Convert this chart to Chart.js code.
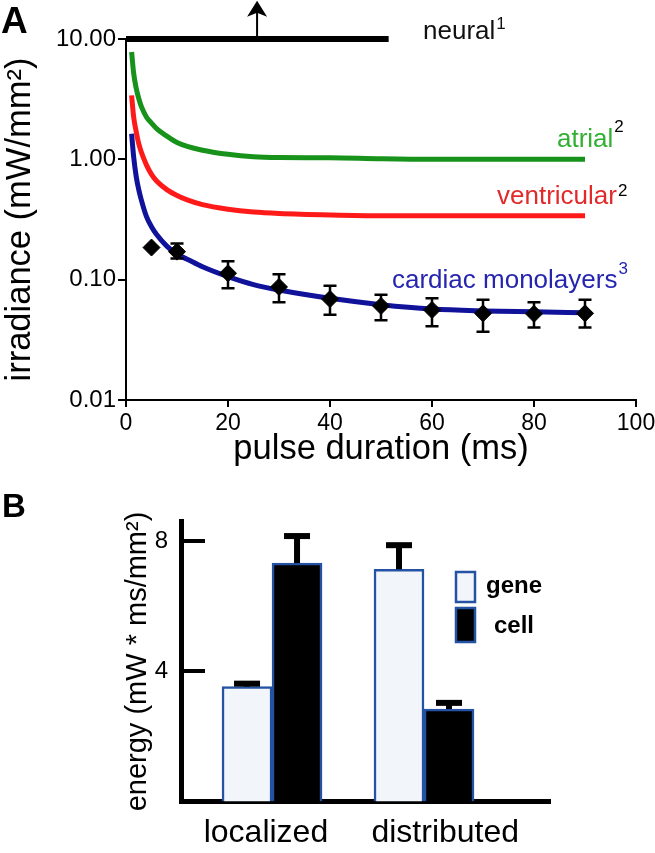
<!DOCTYPE html>
<html>
<head>
<meta charset="utf-8">
<script src="https://cdn.jsdelivr.net/npm/chart.js"></script>
<style>
  body { margin: 0; background: #fff; }
  #wrapA { position: absolute; left: 0; top: 0; width: 655px; height: 470px; }
  #wrapB { position: absolute; left: 0; top: 470px; width: 655px; height: 383px; }
</style>
</head>
<body>
<div id="wrapA"><canvas id="chartA"></canvas></div>
<div id="wrapB"><canvas id="chartB"></canvas></div>
<script>
// ---- panel A: strength-duration curves ----
var pulseTimes   = [1.1, 1.5, 2, 2.5, 3, 4, 5, 6, 8, 10, 12, 15, 20, 25, 30, 40, 50, 60, 70, 80, 90];
var atrial       = [7.8, 5.2, 3.9, 3.2, 2.75, 2.25, 2.0, 1.8, 1.56, 1.38, 1.28, 1.19, 1.10, 1.05, 1.035, 1.03, 1.01, 1.0, 1.0, 1.0, 1.0];
var ventricular  = [3.4, 2.25, 1.7, 1.35, 1.15, 0.9, 0.75, 0.66, 0.56, 0.5, 0.46, 0.42, 0.385, 0.365, 0.355, 0.345, 0.34, 0.34, 0.34, 0.34, 0.34];
var monolayerFit = [1.63, 1.05, 0.72, 0.56, 0.46, 0.335, 0.275, 0.237, 0.19, 0.163, 0.148, 0.128, 0.106, 0.091, 0.082, 0.070, 0.062, 0.057, 0.055, 0.054, 0.053];

var measTimes = [5, 10, 20, 30, 40, 50, 60, 70, 80, 90];
var measMean  = [0.185, 0.171, 0.113, 0.087, 0.069, 0.0605, 0.056, 0.0525, 0.052, 0.0525];
var measHi    = [null, 0.20, 0.142, 0.111, 0.089, 0.075, 0.070, 0.068, 0.065, 0.068];
var measLo    = [null, 0.15, 0.085, 0.065, 0.051, 0.046, 0.041, 0.037, 0.040, 0.040];

var neuralX = [0, 51.5];
var neuralY = [10, 10];
var arrowX  = [25.7, 25.7];
var arrowY  = [10, 17];

var xTicksA = [0, 20, 40, 60, 80, 100];
var yTicksA = [0.01, 0.1, 1, 10];

// ---- panel B: energy bars ----
var energyCats  = ['localized', 'distributed'];
var catPos      = [1, 2];
var catLabelPos = [0.96, 2.14];
var geneEnergy  = [3.53, 7.13];
var geneTop     = [3.62, 7.87];
var cellEnergy  = [7.32, 2.84];
var cellTop     = [8.15, 3.03];
var yTicksB     = [4, 8];

var FONT = "'Liberation Sans', Arial, Helvetica, sans-serif";

function pts(xs, ys) {
    return xs.map(function (x, i) { return { x: x, y: ys[i] }; });
}

// error bars for the measured points, drawn just under the diamonds
var errorBarsA = {
    id: 'errorBarsA',
    beforeDatasetDraw: function (chart, args) {
        if (args.index !== 0) return;
        var ctx = chart.ctx, xs = chart.scales.x, ys = chart.scales.y;
        ctx.save();
        ctx.strokeStyle = '#000';
        ctx.lineWidth = 2.5;
        measTimes.forEach(function (t, i) {
            if (measHi[i] == null) return;
            var px = xs.getPixelForValue(t);
            var top = ys.getPixelForValue(measHi[i]);
            var bot = ys.getPixelForValue(measLo[i]);
            ctx.beginPath();
            ctx.moveTo(px, top); ctx.lineTo(px, bot);
            ctx.moveTo(px - 6.5, top); ctx.lineTo(px + 6.5, top);
            ctx.moveTo(px - 6.5, bot); ctx.lineTo(px + 6.5, bot);
            ctx.stroke();
        });
        ctx.restore();
    }
};

// arrow head on top of the neural marker (point lies above the chart area)
var arrowHead = {
    id: 'arrowHead',
    afterDatasetsDraw: function (chart) {
        var meta = chart.getDatasetMeta(2);
        var tip = meta.data[meta.data.length - 1];
        var ctx = chart.ctx;
        ctx.save();
        ctx.fillStyle = '#000';
        ctx.beginPath();
        ctx.moveTo(tip.x, tip.y - 10.5);
        ctx.lineTo(tip.x + 10, tip.y + 5.5);
        ctx.lineTo(tip.x, tip.y + 1.5);
        ctx.lineTo(tip.x - 10, tip.y + 5.5);
        ctx.closePath();
        ctx.fill();
        ctx.restore();
    }
};

function labelWithSup(ctx, text, sup, x, y, color, supColor, supDy) {
    ctx.font = '26px ' + FONT;
    ctx.fillStyle = color;
    ctx.fillText(text, x, y);
    var w = ctx.measureText(text).width;
    ctx.font = '17px ' + FONT;
    ctx.fillStyle = supColor;
    ctx.fillText(sup, x + w + 1, y - supDy);
}

var textA = {
    id: 'textA',
    afterDraw: function (chart) {
        var ctx = chart.ctx;
        ctx.save();
        ctx.textBaseline = 'alphabetic';
        ctx.textAlign = 'left';
        ctx.fillStyle = '#000';
        ctx.font = 'bold 37px ' + FONT;
        ctx.fillText('A', 1, 33);
        labelWithSup(ctx, 'neural', '1', 423, 39, '#111', '#111', 10);
        labelWithSup(ctx, 'atrial', '2', 557, 147, '#33b033', '#000', 15);
        labelWithSup(ctx, 'ventricular', '2', 497, 204, '#e22a2a', '#000', 8);
        labelWithSup(ctx, 'cardiac monolayers', '3', 392, 288, '#2525b0', '#2525b0', 14);
        ctx.restore();
    }
};

new Chart(document.getElementById('chartA'), {
    type: 'line',
    data: {
        datasets: [
            {
                label: 'cardiac monolayers (measured)',
                type: 'scatter',
                data: pts(measTimes, measMean),
                pointStyle: 'rectRot',
                pointRadius: 8.5,
                backgroundColor: '#000',
                borderColor: '#000',
                showLine: false
            },
            {
                label: 'neural',
                data: pts(neuralX, neuralY),
                borderColor: '#000',
                borderWidth: 6,
                borderCapStyle: 'butt',
                pointRadius: 0,
                clip: false
            },
            {
                label: 'neural arrow',
                data: pts(arrowX, arrowY),
                borderColor: '#000',
                borderWidth: 2,
                pointRadius: 0,
                clip: false
            },
            {
                label: 'cardiac monolayers',
                data: pts(pulseTimes, monolayerFit),
                borderColor: '#10139a',
                borderWidth: 5,
                pointRadius: 0,
                cubicInterpolationMode: 'monotone'
            },
            {
                label: 'ventricular',
                data: pts(pulseTimes, ventricular),
                borderColor: '#ff1a1a',
                borderWidth: 5,
                pointRadius: 0,
                cubicInterpolationMode: 'monotone'
            },
            {
                label: 'atrial',
                data: pts(pulseTimes, atrial),
                borderColor: '#17921a',
                borderWidth: 5,
                pointRadius: 0,
                cubicInterpolationMode: 'monotone'
            }
        ]
    },
    options: {
        responsive: true,
        maintainAspectRatio: false,
        animation: false,
        layout: { padding: { top: 39, right: 19, left: 0, bottom: 0 } },
        plugins: { legend: { display: false }, tooltip: { enabled: false } },
        scales: {
            x: {
                type: 'linear',
                min: 0,
                max: 100,
                afterBuildTicks: function (s) { s.ticks = xTicksA.map(function (v) { return { value: v }; }); },
                afterFit: function (s) { s.height = 70; s.paddingLeft = 0; s.paddingRight = 0; },
                grid: { display: true, drawOnChartArea: false, drawTicks: true, tickLength: 7, tickWidth: 2, lineWidth: 2, tickColor: '#000' },
                border: { display: true, color: '#000', width: 2 },
                ticks: { color: '#000', font: { family: FONT, size: 23 }, padding: 3, maxRotation: 0, autoSkip: false },
                title: { display: true, text: 'pulse duration (ms)', color: '#000', font: { family: FONT, size: 34.5 }, padding: 0 }
            },
            y: {
                type: 'logarithmic',
                min: 0.01,
                max: 10,
                afterBuildTicks: function (s) { s.ticks = yTicksA.map(function (v) { return { value: v }; }); },
                afterFit: function (s) { s.width = 126; },
                grid: { display: true, drawOnChartArea: false, drawTicks: true, tickLength: 8, tickWidth: 2, lineWidth: 2, tickColor: '#000' },
                border: { display: true, color: '#000', width: 2 },
                ticks: {
                    color: '#000',
                    font: { family: FONT, size: 24 },
                    padding: 2,
                    autoSkip: false,
                    callback: function (v) { return Number(v).toFixed(2); }
                },
                title: { display: true, text: 'irradiance (mW/mm²)', color: '#000', font: { family: FONT, size: 34.5 }, padding: 0 }
            }
        }
    },
    plugins: [errorBarsA, arrowHead, textA]
});

// ---- panel B ----
var errorBarsB = {
    id: 'errorBarsB',
    afterDatasetsDraw: function (chart) {
        var ctx = chart.ctx, ys = chart.scales.y;
        var tops = [geneTop, cellTop];
        ctx.save();
        ctx.fillStyle = '#000';
        tops.forEach(function (arr, di) {
            var meta = chart.getDatasetMeta(di);
            meta.data.forEach(function (bar, j) {
                var capY = ys.getPixelForValue(arr[j]);
                ctx.fillRect(bar.x - 3, capY, 6, bar.y - capY);
                ctx.fillRect(bar.x - 13, capY - 3, 26, 6);
            });
        });
        ctx.restore();
    }
};

var legendB = {
    id: 'legendB',
    afterDraw: function (chart) {
        var ctx = chart.ctx;
        var rows = [{ y: 102, h: 30, ty: 123 }, { y: 138, h: 34, ty: 163 }];
        ctx.save();
        ctx.font = 'bold 33px ' + FONT;
        ctx.fillStyle = '#000';
        ctx.textBaseline = 'alphabetic';
        ctx.fillText('B', 2, 47);
        chart.data.datasets.forEach(function (ds, i) {
            var r = rows[i];
            ctx.fillStyle = ds.backgroundColor;
            ctx.fillRect(456, r.y, 19, r.h);
            ctx.strokeStyle = ds.borderColor;
            ctx.lineWidth = 2.5;
            ctx.strokeRect(456, r.y, 19, r.h);
            ctx.fillStyle = '#000';
            ctx.font = 'bold 24px ' + FONT;
            ctx.textAlign = 'center';
            ctx.fillText(ds.label, 514, r.ty);
        });
        ctx.restore();
    }
};

new Chart(document.getElementById('chartB'), {
    type: 'bar',
    data: {
        datasets: [
            {
                label: 'gene',
                data: pts(catPos, geneEnergy),
                backgroundColor: '#f2f5f9',
                borderColor: '#2452a4',
                borderWidth: 2.5,
                barThickness: 50
            },
            {
                label: 'cell',
                data: pts(catPos, cellEnergy),
                backgroundColor: '#000',
                borderColor: '#2452a4',
                borderWidth: 2.5,
                barThickness: 50
            }
        ]
    },
    options: {
        responsive: true,
        maintainAspectRatio: false,
        animation: false,
        layout: { padding: { top: 33, right: 105, left: 0, bottom: 0 } },
        plugins: { legend: { display: false }, tooltip: { enabled: false } },
        scales: {
            x: {
                type: 'linear',
                offset: false,
                min: 0.401,
                max: 2.829,
                afterBuildTicks: function (s) { s.ticks = catLabelPos.map(function (v) { return { value: v }; }); },
                afterFit: function (s) { s.height = 43; s.paddingLeft = 0; s.paddingRight = 0; },
                grid: { display: false, drawTicks: false, offset: false },
                border: { display: true, color: '#000', width: 5 },
                ticks: {
                    color: '#000',
                    font: { family: FONT, size: 32 },
                    padding: 12,
                    maxRotation: 0,
                    autoSkip: false,
                    callback: function (v, i) { return energyCats[i]; }
                }
            },
            y: {
                min: 0,
                max: 8.6,
                afterBuildTicks: function (s) { s.ticks = yTicksB.map(function (v) { return { value: v }; }); },
                afterFit: function (s) { s.width = 181; },
                grid: { display: true, drawOnChartArea: false, drawTicks: true, tickLength: -24, tickWidth: 4, lineWidth: 4, tickColor: '#000' },
                border: { display: true, color: '#000', width: 5 },
                ticks: { color: '#000', font: { family: FONT, size: 24 }, padding: 37, autoSkip: false },
                title: { display: true, text: 'energy (mW * ms/mm²)', color: '#000', font: { family: FONT, size: 29 }, padding: { top: 121, bottom: 0 } }
            }
        }
    },
    plugins: [errorBarsB, legendB]
});
</script>
</body>
</html>
